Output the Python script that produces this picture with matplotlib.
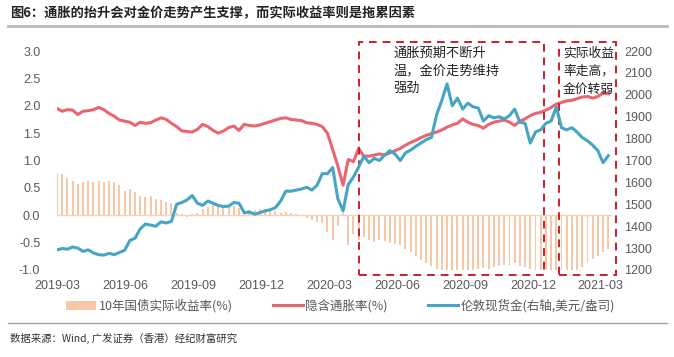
import matplotlib
matplotlib.use("Agg")
import matplotlib.pyplot as plt
import matplotlib.dates as mdates
from matplotlib.patches import Rectangle
import pandas as pd

plt.rcParams['font.family'] = ['Liberation Sans', 'Noto Sans CJK SC', 'DejaVu Sans']

# 周度日期（2019-03-01 起）
dates = pd.date_range("2019-03-01", periods=107, freq="7D")

# 10年国债实际收益率(%)
real_yield = [0.78, 0.75, 0.68, 0.62, 0.58, 0.60, 0.62, 0.61, 0.62, 0.60,
              0.62, 0.60, 0.55, 0.45, 0.48, 0.42, 0.35, 0.33, 0.35, 0.30,
              0.27, 0.25, 0.22, 0.05, 0.03, -0.03, 0.02, 0.05, 0.12, 0.15,
              0.18, 0.17, 0.16, 0.18, 0.17, 0.14, 0.10, 0.10, 0.09, 0.12,
              0.12, 0.10, 0.08, 0.05, 0.06, 0.05, 0.02, -0.02, -0.05, -0.08,
              -0.12, -0.15, -0.30, -0.45, -0.20, 0.05, -0.55, -0.35, -0.45, -0.40,
              -0.45, -0.48, -0.45, -0.47, -0.50, -0.52, -0.55, -0.62, -0.68, -0.75,
              -0.82, -0.88, -0.92, -0.98, -1.02, -1.05, -1.05, -1.02, -1.00, -1.02,
              -1.00, -0.98, -0.96, -0.98, -0.95, -0.93, -0.90, -0.92, -0.88, -0.92,
              -0.95, -0.98, -1.00, -1.02, -1.04, -1.05, -1.05, -1.04, -1.02, -1.04,
              -1.00, -0.95, -0.88, -0.80, -0.75, -0.68, -0.62]

# 隐含通胀率(%)
breakeven = [1.95, 1.90, 1.93, 1.92, 1.84, 1.90, 1.91, 1.93, 1.97, 1.93,
             1.86, 1.81, 1.74, 1.72, 1.70, 1.64, 1.70, 1.68, 1.69, 1.74,
             1.78, 1.75, 1.68, 1.62, 1.54, 1.53, 1.52, 1.57, 1.66, 1.62,
             1.55, 1.50, 1.54, 1.60, 1.63, 1.55, 1.66, 1.64, 1.63, 1.65,
             1.68, 1.71, 1.74, 1.77, 1.78, 1.75, 1.74, 1.73, 1.69, 1.68,
             1.66, 1.62, 1.50, 1.20, 0.90, 0.55, 1.02, 0.98, 1.22, 1.08,
             1.08, 1.10, 1.12, 1.10, 1.14, 1.18, 1.22, 1.28, 1.33, 1.37,
             1.42, 1.46, 1.49, 1.52, 1.56, 1.61, 1.65, 1.68, 1.76, 1.70,
             1.66, 1.64, 1.59, 1.66, 1.70, 1.72, 1.74, 1.70, 1.64, 1.72,
             1.76, 1.82, 1.86, 1.88, 1.92, 1.97, 2.03, 2.06, 2.09, 2.10,
             2.13, 2.16, 2.17, 2.14, 2.17, 2.23, 2.22]

# 伦敦现货金(美元/盎司)
gold = [1292, 1298, 1295, 1305, 1300, 1285, 1292, 1278, 1270, 1268,
        1276, 1270, 1280, 1290, 1335, 1345, 1388, 1410, 1405, 1400,
        1420, 1415, 1422, 1500, 1508, 1520, 1540, 1505, 1495, 1515,
        1505, 1495, 1490, 1492, 1508, 1505, 1462, 1465, 1455, 1462,
        1470, 1475, 1485, 1515, 1560, 1560, 1565, 1570, 1578, 1565,
        1587, 1640, 1640, 1668, 1525, 1470, 1590, 1625, 1670, 1720,
        1690, 1710, 1700, 1725, 1745, 1730, 1700, 1735, 1748, 1765,
        1780, 1795, 1806, 1910, 1975, 2050, 1950, 1985, 1935, 1962,
        1945, 1940, 1880, 1905, 1895, 1900, 1890, 1905, 1935, 1875,
        1870, 1780, 1830, 1840, 1870, 1880, 1945, 1850, 1840, 1850,
        1830, 1805, 1790, 1770, 1745, 1690, 1722]

tick_dates = pd.date_range("2019-03-01", "2021-03-01", freq="3MS")
tick_labels = [d.strftime("%Y-%m") for d in tick_dates]

red = '#EB6570'
blue = '#45A5C2'
orange = '#F4B183'
gray = '#595959'

fig = plt.figure(figsize=(6.74, 3.57), dpi=100)
ax = fig.add_axes([0.0846, 0.2437, 0.8234, 0.6133])
ax2 = ax.twinx()

bars = ax.bar(dates, real_yield, width=2.6, color=orange, alpha=0.7,
              label='10年国债实际收益率(%)', zorder=1)
ax.axhline(0, color='#F6D2B8', lw=1, zorder=1)
line_r, = ax.plot(dates, breakeven, color=red, lw=2.2, label='隐含通胀率(%)', zorder=3)
line_b, = ax2.plot(dates, gold, color=blue, lw=2.2, label='伦敦现货金(右轴,美元/盎司)', zorder=3)

ax.set_ylim(-1, 3)
ax2.set_ylim(1200, 2200)
ax.set_yticks([-1, -0.5, 0, 0.5, 1, 1.5, 2, 2.5, 3])
ax.set_yticklabels(['-1.0', '-0.5', '0.0', '0.5', '1.0', '1.5', '2.0', '2.5', '3.0'])
ax2.set_yticks(range(1200, 2201, 100))
ax.set_xlim(pd.Timestamp("2019-03-01"), pd.Timestamp("2021-03-17"))
ax.set_xticks(tick_dates)
ax.set_xticklabels(tick_labels)

for a in (ax, ax2):
    for s in a.spines.values():
        s.set_visible(False)
ax.tick_params(axis='x', length=0, pad=7, labelsize=9, colors=gray)
ax.tick_params(axis='y', length=0, pad=12, labelsize=9, colors=gray)
ax2.tick_params(axis='y', length=0, pad=9, labelsize=9, colors=gray)

# 虚线框和注释
box_col = '#C8202A'
for x0, x1 in [("2020-04-10", "2020-12-16"), ("2021-01-04", "2021-03-22")]:
    x0n = mdates.date2num(pd.Timestamp(x0))
    x1n = mdates.date2num(pd.Timestamp(x1))
    ax.add_patch(Rectangle((x0n, -1.10), x1n - x0n, 4.26, fill=False,
                           edgecolor=box_col, lw=1.4, ls=(0, (4, 3)),
                           clip_on=False, zorder=4))
ax.text(pd.Timestamp("2020-05-27"), 3.08, "通胀预期不断升\n温，金价走势维持\n强劲",
        fontsize=9.5, va='top', ha='left', linespacing=1.45,
        family=['Noto Sans CJK SC'], color='#222222', zorder=5)
ax.text(pd.Timestamp("2021-01-10"), 3.08, "实际收益\n率走高，\n金价转弱",
        fontsize=9.2, va='top', ha='left', linespacing=1.5,
        family=['Noto Sans CJK SC'], color='#222222', zorder=5)

fig.legend([bars, line_r, line_b],
           ['10年国债实际收益率(%)', '隐含通胀率(%)', '伦敦现货金(右轴,美元/盎司)'],
           loc='center', bbox_to_anchor=(0.505, 0.143), ncol=3, frameon=False,
           handlelength=2.4, columnspacing=3.2, handletextpad=0.2,
           labelcolor=gray, prop={'family': ['Noto Sans CJK SC'], 'size': 9})

# 标题与来源
fig.text(0.015, 0.962, "图6：通胀的抬升会对金价走势产生支撑，而实际收益率则是拖累因素",
         fontsize=9.5, fontweight='bold', va='center', ha='left',
         family=['Noto Sans CJK SC'], color='#222222')
fig.add_artist(plt.Line2D([0.012, 0.99], [0.927, 0.927], color='#B4BAC2', lw=2))
fig.add_artist(plt.Line2D([0.012, 0.99], [0.095, 0.095], color='#9AA3AD', lw=1))
fig.text(0.015, 0.053, "数据来源：Wind, 广发证券（香港）经纪财富研究",
         fontsize=7.5, style='italic', va='center', ha='left',
         family=['Noto Sans CJK SC'], color='#333333')

fig.savefig("out.png", dpi=100)
